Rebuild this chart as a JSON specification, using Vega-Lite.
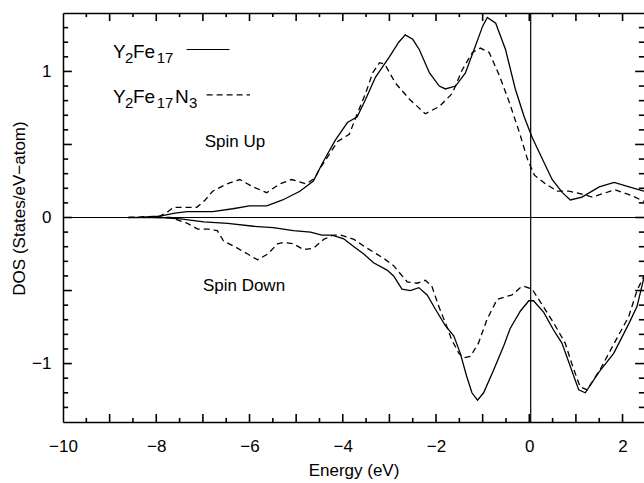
{
  "$schema": "https://vega.github.io/schema/vega-lite/v6.json",
  "width": 581,
  "height": 409,
  "autosize": "none",
  "padding": {"left": 63, "top": 13, "right": 0, "bottom": 61},
  "background": "white",
  "datasets": {
    "solid_up": [
      {"e": -8.6, "dos": 0}, {"e": -8.35, "dos": 0}, {"e": -7.92, "dos": 0.01}, {"e": -7.6, "dos": 0.03},
      {"e": -7.34, "dos": 0.04}, {"e": -6.79, "dos": 0.04}, {"e": -6.36, "dos": 0.06}, {"e": -6.0, "dos": 0.08},
      {"e": -5.63, "dos": 0.08}, {"e": -5.29, "dos": 0.12}, {"e": -4.92, "dos": 0.18}, {"e": -4.63, "dos": 0.25},
      {"e": -4.44, "dos": 0.37}, {"e": -4.16, "dos": 0.53}, {"e": -3.9, "dos": 0.65}, {"e": -3.69, "dos": 0.69},
      {"e": -3.51, "dos": 0.81}, {"e": -3.3, "dos": 0.96}, {"e": -3.0, "dos": 1.1}, {"e": -2.8, "dos": 1.2},
      {"e": -2.66, "dos": 1.25}, {"e": -2.5, "dos": 1.22}, {"e": -2.36, "dos": 1.15}, {"e": -2.14, "dos": 0.99},
      {"e": -1.93, "dos": 0.9}, {"e": -1.8, "dos": 0.88}, {"e": -1.58, "dos": 0.9}, {"e": -1.37, "dos": 0.99},
      {"e": -1.16, "dos": 1.17}, {"e": -1.0, "dos": 1.31}, {"e": -0.9, "dos": 1.37}, {"e": -0.72, "dos": 1.33},
      {"e": -0.51, "dos": 1.15}, {"e": -0.3, "dos": 0.88}, {"e": -0.11, "dos": 0.69}, {"e": 0.06, "dos": 0.55},
      {"e": 0.28, "dos": 0.4}, {"e": 0.49, "dos": 0.26}, {"e": 0.71, "dos": 0.17}, {"e": 0.88, "dos": 0.12},
      {"e": 1.13, "dos": 0.14}, {"e": 1.5, "dos": 0.21}, {"e": 1.82, "dos": 0.24}, {"e": 2.14, "dos": 0.21},
      {"e": 2.46, "dos": 0.18}
    ],
    "dashed_up": [
      {"e": -8.6, "dos": 0}, {"e": -7.92, "dos": 0.01}, {"e": -7.75, "dos": 0.04}, {"e": -7.63, "dos": 0.07},
      {"e": -7.34, "dos": 0.07}, {"e": -7.13, "dos": 0.07}, {"e": -6.95, "dos": 0.12}, {"e": -6.79, "dos": 0.18},
      {"e": -6.49, "dos": 0.23}, {"e": -6.21, "dos": 0.26}, {"e": -5.93, "dos": 0.21}, {"e": -5.63, "dos": 0.17},
      {"e": -5.35, "dos": 0.23}, {"e": -5.1, "dos": 0.26}, {"e": -4.78, "dos": 0.23}, {"e": -4.6, "dos": 0.27},
      {"e": -4.5, "dos": 0.33}, {"e": -4.11, "dos": 0.52}, {"e": -3.86, "dos": 0.57}, {"e": -3.69, "dos": 0.71},
      {"e": -3.51, "dos": 0.85}, {"e": -3.36, "dos": 0.99}, {"e": -3.21, "dos": 1.06}, {"e": -3.1, "dos": 1.05},
      {"e": -2.87, "dos": 0.92}, {"e": -2.57, "dos": 0.81}, {"e": -2.23, "dos": 0.71}, {"e": -1.93, "dos": 0.76},
      {"e": -1.65, "dos": 0.85}, {"e": -1.44, "dos": 1.01}, {"e": -1.22, "dos": 1.13}, {"e": -1.05, "dos": 1.16},
      {"e": -0.86, "dos": 1.13}, {"e": -0.64, "dos": 0.97}, {"e": -0.43, "dos": 0.79}, {"e": -0.21, "dos": 0.58},
      {"e": -0.04, "dos": 0.4}, {"e": 0.11, "dos": 0.29}, {"e": 0.35, "dos": 0.23}, {"e": 0.6, "dos": 0.18},
      {"e": 0.85, "dos": 0.18}, {"e": 1.13, "dos": 0.16}, {"e": 1.35, "dos": 0.14}, {"e": 1.84, "dos": 0.19},
      {"e": 2.2, "dos": 0.15}, {"e": 2.46, "dos": 0.11}
    ],
    "solid_down": [
      {"e": -8.3, "dos": 0}, {"e": -7.9, "dos": 0}, {"e": -7.48, "dos": -0.01}, {"e": -6.98, "dos": -0.03},
      {"e": -6.47, "dos": -0.04}, {"e": -5.91, "dos": -0.06}, {"e": -5.49, "dos": -0.07}, {"e": -5.06, "dos": -0.09},
      {"e": -4.69, "dos": -0.1}, {"e": -4.45, "dos": -0.12}, {"e": -4.23, "dos": -0.12}, {"e": -3.98, "dos": -0.146},
      {"e": -3.76, "dos": -0.2}, {"e": -3.55, "dos": -0.25}, {"e": -3.34, "dos": -0.31}, {"e": -3.05, "dos": -0.36},
      {"e": -2.91, "dos": -0.4}, {"e": -2.73, "dos": -0.49}, {"e": -2.55, "dos": -0.5}, {"e": -2.37, "dos": -0.48},
      {"e": -2.19, "dos": -0.53}, {"e": -2.01, "dos": -0.63}, {"e": -1.8, "dos": -0.74}, {"e": -1.62, "dos": -0.81},
      {"e": -1.48, "dos": -0.93}, {"e": -1.34, "dos": -1.09}, {"e": -1.23, "dos": -1.2}, {"e": -1.11, "dos": -1.25},
      {"e": -0.98, "dos": -1.2}, {"e": -0.76, "dos": -1.04}, {"e": -0.55, "dos": -0.88}, {"e": -0.41, "dos": -0.76},
      {"e": -0.19, "dos": -0.64}, {"e": -0.01, "dos": -0.57}, {"e": 0.09, "dos": -0.57}, {"e": 0.31, "dos": -0.65},
      {"e": 0.52, "dos": -0.77}, {"e": 0.7, "dos": -0.86}, {"e": 0.88, "dos": -1.02}, {"e": 1.06, "dos": -1.18},
      {"e": 1.2, "dos": -1.2}, {"e": 1.49, "dos": -1.06}, {"e": 1.81, "dos": -0.93}, {"e": 2.13, "dos": -0.73},
      {"e": 2.31, "dos": -0.61}, {"e": 2.46, "dos": -0.41}
    ],
    "dashed_down": [
      {"e": -8.0, "dos": 0}, {"e": -7.69, "dos": 0}, {"e": -7.33, "dos": -0.04}, {"e": -7.11, "dos": -0.08},
      {"e": -6.88, "dos": -0.08}, {"e": -6.69, "dos": -0.09}, {"e": -6.56, "dos": -0.16}, {"e": -6.26, "dos": -0.21},
      {"e": -6.04, "dos": -0.25}, {"e": -5.83, "dos": -0.29}, {"e": -5.61, "dos": -0.25}, {"e": -5.4, "dos": -0.18},
      {"e": -5.27, "dos": -0.17}, {"e": -5.06, "dos": -0.18}, {"e": -4.84, "dos": -0.22}, {"e": -4.63, "dos": -0.21},
      {"e": -4.41, "dos": -0.15}, {"e": -4.2, "dos": -0.12}, {"e": -4.05, "dos": -0.12}, {"e": -3.76, "dos": -0.15},
      {"e": -3.48, "dos": -0.21}, {"e": -3.12, "dos": -0.28}, {"e": -2.91, "dos": -0.33}, {"e": -2.62, "dos": -0.44},
      {"e": -2.41, "dos": -0.45}, {"e": -2.23, "dos": -0.43}, {"e": -2.09, "dos": -0.47}, {"e": -1.94, "dos": -0.61},
      {"e": -1.8, "dos": -0.72}, {"e": -1.66, "dos": -0.84}, {"e": -1.51, "dos": -0.93}, {"e": -1.41, "dos": -0.96},
      {"e": -1.26, "dos": -0.95}, {"e": -1.09, "dos": -0.86}, {"e": -0.91, "dos": -0.7}, {"e": -0.69, "dos": -0.56},
      {"e": -0.48, "dos": -0.54}, {"e": -0.37, "dos": -0.53}, {"e": -0.19, "dos": -0.48}, {"e": -0.12, "dos": -0.47},
      {"e": 0.06, "dos": -0.49}, {"e": 0.24, "dos": -0.58}, {"e": 0.52, "dos": -0.72}, {"e": 0.77, "dos": -0.86},
      {"e": 0.91, "dos": -1.0}, {"e": 1.09, "dos": -1.16}, {"e": 1.24, "dos": -1.18}, {"e": 1.52, "dos": -1.04},
      {"e": 1.84, "dos": -0.85}, {"e": 2.13, "dos": -0.68}, {"e": 2.31, "dos": -0.5}, {"e": 2.46, "dos": -0.4}
    ],
    "x_major": [{"t": -9}, {"t": -8}, {"t": -7}, {"t": -6}, {"t": -5}, {"t": -4}, {"t": -3}, {"t": -2}, {"t": -1}, {"t": 0}, {"t": 1}, {"t": 2}],
    "x_minor": [{"t": -9.5}, {"t": -8.5}, {"t": -7.5}, {"t": -6.5}, {"t": -5.5}, {"t": -4.5}, {"t": -3.5}, {"t": -2.5}, {"t": -1.5}, {"t": -0.5}, {"t": 0.5}, {"t": 1.5}],
    "y_major": [{"t": -1}, {"t": -0.5}, {"t": 0}, {"t": 0.5}, {"t": 1}],
    "y_minor": [{"t": -1.3}, {"t": -1.2}, {"t": -1.1}, {"t": -0.9}, {"t": -0.8}, {"t": -0.7}, {"t": -0.6}, {"t": -0.4}, {"t": -0.3}, {"t": -0.2}, {"t": -0.1},
      {"t": 0.1}, {"t": 0.2}, {"t": 0.3}, {"t": 0.4}, {"t": 0.6}, {"t": 0.7}, {"t": 0.8}, {"t": 0.9}, {"t": 1.1}, {"t": 1.2}, {"t": 1.3}],
    "one": [{}]
  },
  "layer": [
    {
      "data": {"name": "solid_up"},
      "mark": {"type": "line", "color": "black", "strokeWidth": 1.3},
      "encoding": {
        "x": {"field": "e", "type": "quantitative", "scale": {"domain": [-10, 2.46], "nice": false, "zero": false},
          "axis": {"orient": "bottom", "values": [-10, -8, -6, -4, -2, 0, 2], "ticks": false,
            "labelPadding": 16, "labelFlush": false, "format": "d",
            "labelExpr": "datum.value < 0 ? datum.label + '\u2007' : datum.label",
            "title": "Energy (eV)", "titleX": 290.5, "titleY": 48, "titleBaseline": "middle"}},
        "y": {"field": "dos", "type": "quantitative", "scale": {"domain": [-1.4, 1.4], "nice": false, "zero": false},
          "axis": {"orient": "left", "values": [-1, 0, 1], "ticks": false, "labelPadding": 12, "format": "d",
            "title": "DOS (States/eV−atom)", "titleX": -44, "titleY": 195, "titleBaseline": "middle"}}
      }
    },
    {
      "data": {"name": "solid_down"},
      "mark": {"type": "line", "color": "black", "strokeWidth": 1.3},
      "encoding": {
        "x": {"field": "e", "type": "quantitative", "scale": {"domain": [-10, 2.46], "nice": false, "zero": false},
          "axis": {"orient": "top", "ticks": false, "labels": false, "domain": true, "title": null}},
        "y": {"field": "dos", "type": "quantitative", "scale": {"domain": [-1.4, 1.4], "nice": false, "zero": false}, "axis": null}
      }
    },
    {
      "data": {"name": "dashed_up"},
      "mark": {"type": "line", "color": "black", "strokeWidth": 1.3, "strokeDash": [6, 4]},
      "encoding": {
        "x": {"field": "e", "type": "quantitative", "scale": {"domain": [-10, 2.46], "nice": false, "zero": false}, "axis": null},
        "y": {"field": "dos", "type": "quantitative", "scale": {"domain": [-1.4, 1.4], "nice": false, "zero": false}, "axis": null}
      }
    },
    {
      "data": {"name": "dashed_down"},
      "mark": {"type": "line", "color": "black", "strokeWidth": 1.3, "strokeDash": [6, 4]},
      "encoding": {
        "x": {"field": "e", "type": "quantitative", "scale": {"domain": [-10, 2.46], "nice": false, "zero": false}, "axis": null},
        "y": {"field": "dos", "type": "quantitative", "scale": {"domain": [-1.4, 1.4], "nice": false, "zero": false}, "axis": null}
      }
    },
    {
      "data": {"name": "one"},
      "mark": {"type": "rule", "color": "black", "strokeWidth": 1.2},
      "encoding": {
        "x": {"datum": -7.35, "type": "quantitative", "scale": {"domain": [-10, 2.46], "nice": false, "zero": false}, "axis": null},
        "x2": {"datum": -6.43},
        "y": {"datum": 1.15, "type": "quantitative", "scale": {"domain": [-1.4, 1.4], "nice": false, "zero": false}, "axis": null}
      }
    },
    {
      "data": {"name": "one"},
      "mark": {"type": "rule", "color": "black", "strokeWidth": 1.2, "strokeDash": [6, 4]},
      "encoding": {
        "x": {"datum": -6.92, "type": "quantitative", "scale": {"domain": [-10, 2.46], "nice": false, "zero": false}, "axis": null},
        "x2": {"datum": -5.99},
        "y": {"datum": 0.84, "type": "quantitative", "scale": {"domain": [-1.4, 1.4], "nice": false, "zero": false}, "axis": null}
      }
    },
    {
      "data": {"name": "one"},
      "mark": {"type": "rule", "color": "black", "strokeWidth": 1.2},
      "encoding": {
        "y": {"datum": 0, "type": "quantitative", "scale": {"domain": [-1.4, 1.4], "nice": false, "zero": false}, "axis": null}
      }
    },
    {
      "data": {"name": "one"},
      "mark": {"type": "rule", "color": "black", "strokeWidth": 1.2},
      "encoding": {
        "x": {"datum": 0.03, "type": "quantitative", "scale": {"domain": [-10, 2.46], "nice": false, "zero": false}, "axis": null}
      }
    },
    {
      "data": {"name": "one"},
      "mark": {"type": "text", "text": "Y", "align": "left", "baseline": "alphabetic", "fontSize": 19},
      "encoding": {
        "x": {"datum": -8.93, "type": "quantitative", "scale": {"domain": [-10, 2.46], "nice": false, "zero": false}, "axis": null},
        "y": {"datum": 1.09, "type": "quantitative", "scale": {"domain": [-1.4, 1.4], "nice": false, "zero": false}, "axis": null}
      }
    },
    {
      "data": {"name": "one"},
      "mark": {"type": "text", "text": "2", "align": "left", "baseline": "alphabetic", "fontSize": 15},
      "encoding": {
        "x": {"datum": -8.67, "type": "quantitative", "scale": {"domain": [-10, 2.46], "nice": false, "zero": false}, "axis": null},
        "y": {"datum": 1.055, "type": "quantitative", "scale": {"domain": [-1.4, 1.4], "nice": false, "zero": false}, "axis": null}
      }
    },
    {
      "data": {"name": "one"},
      "mark": {"type": "text", "text": "Fe", "align": "left", "baseline": "alphabetic", "fontSize": 19},
      "encoding": {
        "x": {"datum": -8.5, "type": "quantitative", "scale": {"domain": [-10, 2.46], "nice": false, "zero": false}, "axis": null},
        "y": {"datum": 1.09, "type": "quantitative", "scale": {"domain": [-1.4, 1.4], "nice": false, "zero": false}, "axis": null}
      }
    },
    {
      "data": {"name": "one"},
      "mark": {"type": "text", "text": "17", "align": "left", "baseline": "alphabetic", "fontSize": 15, "letterSpacing": -1.5},
      "encoding": {
        "x": {"datum": -7.99, "type": "quantitative", "scale": {"domain": [-10, 2.46], "nice": false, "zero": false}, "axis": null},
        "y": {"datum": 1.055, "type": "quantitative", "scale": {"domain": [-1.4, 1.4], "nice": false, "zero": false}, "axis": null}
      }
    },
    {
      "data": {"name": "one"},
      "mark": {"type": "text", "text": "Y", "align": "left", "baseline": "alphabetic", "fontSize": 19},
      "encoding": {
        "x": {"datum": -8.93, "type": "quantitative", "scale": {"domain": [-10, 2.46], "nice": false, "zero": false}, "axis": null},
        "y": {"datum": 0.785, "type": "quantitative", "scale": {"domain": [-1.4, 1.4], "nice": false, "zero": false}, "axis": null}
      }
    },
    {
      "data": {"name": "one"},
      "mark": {"type": "text", "text": "2", "align": "left", "baseline": "alphabetic", "fontSize": 15},
      "encoding": {
        "x": {"datum": -8.67, "type": "quantitative", "scale": {"domain": [-10, 2.46], "nice": false, "zero": false}, "axis": null},
        "y": {"datum": 0.75, "type": "quantitative", "scale": {"domain": [-1.4, 1.4], "nice": false, "zero": false}, "axis": null}
      }
    },
    {
      "data": {"name": "one"},
      "mark": {"type": "text", "text": "Fe", "align": "left", "baseline": "alphabetic", "fontSize": 19},
      "encoding": {
        "x": {"datum": -8.5, "type": "quantitative", "scale": {"domain": [-10, 2.46], "nice": false, "zero": false}, "axis": null},
        "y": {"datum": 0.785, "type": "quantitative", "scale": {"domain": [-1.4, 1.4], "nice": false, "zero": false}, "axis": null}
      }
    },
    {
      "data": {"name": "one"},
      "mark": {"type": "text", "text": "17", "align": "left", "baseline": "alphabetic", "fontSize": 15, "letterSpacing": -1.5},
      "encoding": {
        "x": {"datum": -7.99, "type": "quantitative", "scale": {"domain": [-10, 2.46], "nice": false, "zero": false}, "axis": null},
        "y": {"datum": 0.75, "type": "quantitative", "scale": {"domain": [-1.4, 1.4], "nice": false, "zero": false}, "axis": null}
      }
    },
    {
      "data": {"name": "one"},
      "mark": {"type": "text", "text": "N", "align": "left", "baseline": "alphabetic", "fontSize": 19},
      "encoding": {
        "x": {"datum": -7.6, "type": "quantitative", "scale": {"domain": [-10, 2.46], "nice": false, "zero": false}, "axis": null},
        "y": {"datum": 0.785, "type": "quantitative", "scale": {"domain": [-1.4, 1.4], "nice": false, "zero": false}, "axis": null}
      }
    },
    {
      "data": {"name": "one"},
      "mark": {"type": "text", "text": "3", "align": "left", "baseline": "alphabetic", "fontSize": 15},
      "encoding": {
        "x": {"datum": -7.3, "type": "quantitative", "scale": {"domain": [-10, 2.46], "nice": false, "zero": false}, "axis": null},
        "y": {"datum": 0.75, "type": "quantitative", "scale": {"domain": [-1.4, 1.4], "nice": false, "zero": false}, "axis": null}
      }
    },
    {
      "data": {"name": "one"},
      "mark": {"type": "text", "text": "Spin Up", "align": "left", "baseline": "middle"},
      "encoding": {
        "x": {"datum": -6.96, "type": "quantitative", "scale": {"domain": [-10, 2.46], "nice": false, "zero": false}, "axis": null},
        "y": {"datum": 0.52, "type": "quantitative", "scale": {"domain": [-1.4, 1.4], "nice": false, "zero": false}, "axis": null}
      }
    },
    {
      "data": {"name": "one"},
      "mark": {"type": "text", "text": "Spin Down", "align": "left", "baseline": "middle"},
      "encoding": {
        "x": {"datum": -7.0, "type": "quantitative", "scale": {"domain": [-10, 2.46], "nice": false, "zero": false}, "axis": null},
        "y": {"datum": -0.47, "type": "quantitative", "scale": {"domain": [-1.4, 1.4], "nice": false, "zero": false}, "axis": null}
      }
    },
    {
      "data": {"name": "x_major"},
      "mark": {"type": "rule", "color": "black", "strokeWidth": 1.6},
      "encoding": {
        "x": {"field": "t", "type": "quantitative", "scale": {"domain": [-10, 2.46], "nice": false, "zero": false}, "axis": null},
        "y": {"datum": -1.4, "type": "quantitative", "scale": {"domain": [-1.4, 1.4], "nice": false, "zero": false}, "axis": null},
        "y2": {"datum": -1.345}
      }
    },
    {
      "data": {"name": "x_major"},
      "mark": {"type": "rule", "color": "black", "strokeWidth": 1.6},
      "encoding": {
        "x": {"field": "t", "type": "quantitative", "scale": {"domain": [-10, 2.46], "nice": false, "zero": false}, "axis": null},
        "y": {"datum": 1.4, "type": "quantitative", "scale": {"domain": [-1.4, 1.4], "nice": false, "zero": false}, "axis": null},
        "y2": {"datum": 1.345}
      }
    },
    {
      "data": {"name": "x_minor"},
      "mark": {"type": "rule", "color": "black", "strokeWidth": 1.6},
      "encoding": {
        "x": {"field": "t", "type": "quantitative", "scale": {"domain": [-10, 2.46], "nice": false, "zero": false}, "axis": null},
        "y": {"datum": -1.4, "type": "quantitative", "scale": {"domain": [-1.4, 1.4], "nice": false, "zero": false}, "axis": null},
        "y2": {"datum": -1.372}
      }
    },
    {
      "data": {"name": "x_minor"},
      "mark": {"type": "rule", "color": "black", "strokeWidth": 1.6},
      "encoding": {
        "x": {"field": "t", "type": "quantitative", "scale": {"domain": [-10, 2.46], "nice": false, "zero": false}, "axis": null},
        "y": {"datum": 1.4, "type": "quantitative", "scale": {"domain": [-1.4, 1.4], "nice": false, "zero": false}, "axis": null},
        "y2": {"datum": 1.372}
      }
    },
    {
      "data": {"name": "y_major"},
      "mark": {"type": "rule", "color": "black", "strokeWidth": 1.6},
      "encoding": {
        "y": {"field": "t", "type": "quantitative", "scale": {"domain": [-1.4, 1.4], "nice": false, "zero": false}, "axis": null},
        "x": {"datum": -10, "type": "quantitative", "scale": {"domain": [-10, 2.46], "nice": false, "zero": false}, "axis": null},
        "x2": {"datum": -9.81}
      }
    },
    {
      "data": {"name": "y_major"},
      "mark": {"type": "rule", "color": "black", "strokeWidth": 1.6},
      "encoding": {
        "y": {"field": "t", "type": "quantitative", "scale": {"domain": [-1.4, 1.4], "nice": false, "zero": false}, "axis": null},
        "x": {"datum": 2.46, "type": "quantitative", "scale": {"domain": [-10, 2.46], "nice": false, "zero": false}, "axis": null},
        "x2": {"datum": 2.27}
      }
    },
    {
      "data": {"name": "y_minor"},
      "mark": {"type": "rule", "color": "black", "strokeWidth": 1.6},
      "encoding": {
        "y": {"field": "t", "type": "quantitative", "scale": {"domain": [-1.4, 1.4], "nice": false, "zero": false}, "axis": null},
        "x": {"datum": -10, "type": "quantitative", "scale": {"domain": [-10, 2.46], "nice": false, "zero": false}, "axis": null},
        "x2": {"datum": -9.89}
      }
    },
    {
      "data": {"name": "y_minor"},
      "mark": {"type": "rule", "color": "black", "strokeWidth": 1.6},
      "encoding": {
        "y": {"field": "t", "type": "quantitative", "scale": {"domain": [-1.4, 1.4], "nice": false, "zero": false}, "axis": null},
        "x": {"datum": 2.46, "type": "quantitative", "scale": {"domain": [-10, 2.46], "nice": false, "zero": false}, "axis": null},
        "x2": {"datum": 2.35}
      }
    }
  ],
  "resolve": {"axis": {"x": "independent", "y": "independent"}},
  "config": {
    "view": {"stroke": null},
    "axis": {
      "grid": false,
      "domainColor": "black",
      "domainWidth": 1.5,
      "labelColor": "black",
      "labelFont": "Liberation Sans",
      "labelFontSize": 17,
      "titleColor": "black",
      "titleFont": "Liberation Sans",
      "titleFontSize": 17,
      "titleFontWeight": "normal"
    },
    "text": {"font": "Liberation Sans", "fontSize": 17, "color": "black"}
  }
}
